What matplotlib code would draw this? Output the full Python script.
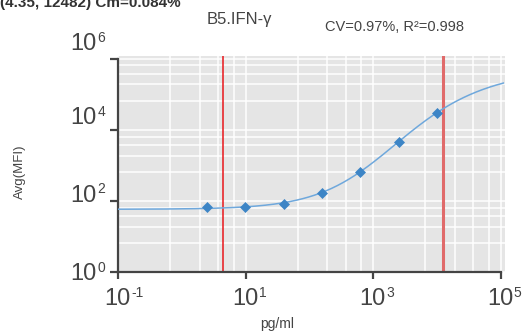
import numpy as np
import matplotlib
matplotlib.use('Agg')
import matplotlib.pyplot as plt
import matplotlib.transforms as mtransforms
from matplotlib.ticker import FixedLocator, NullLocator, NullFormatter

# ---------------- data ----------------
concentrations = [2.44140625, 9.765625, 39.0625, 156.25, 625, 2500, 10000]   # pg/ml
avg_mfi = [70.5, 70, 83, 172, 650, 4660, 29200]
lloq = 4.35
uloq = 12482
cm_pct = 0.084
cv_pct = 0.97
r2 = 0.998
analyte = "B5.IFN-γ"
# standard-curve fit parameters (5PL on log10 MFI)
fit_a, fit_d, fit_c, fit_b, fit_g = 1.77, 5.75, 1215.0, 0.75, 0.65
curve_x_range = (0.1, 1.09e5)
x_major = [0.1, 10, 1000, 100000]
x_exps = ["-1", "1", "3", "5"]
y_major = [1, 100, 10000, 1000000]
y_exps = ["0", "2", "4", "6"]
minor_mult = [6.5, 19, 37, 65]

# ---------------- style ----------------
W, H = 525, 333
plt.rcParams['font.family'] = ['Liberation Sans', 'DejaVu Sans']
TXT = '#444444'
fig = plt.figure(figsize=(W / 100, H / 100), dpi=100)
left_px, right_px, top_px, bottom_px = 118.3, 504.5, 55.7, 272.3
ax = fig.add_axes([left_px / W, (H - bottom_px) / H, (right_px - left_px) / W, (bottom_px - top_px) / H])
ax.set_facecolor('#e5e5e5')
ax.set_xscale('log')
ax.set_yscale('log')
ax.set_xlim(0.1, 10 ** 5.055)
ax.set_ylim(1, 10 ** 6.084)

x_minor = [b * m for b in x_major[:-1] for m in minor_mult]
y_minor = [b * m for b in y_major[:-1] for m in minor_mult]
ax.xaxis.set_major_locator(FixedLocator(x_major))
ax.yaxis.set_major_locator(FixedLocator(y_major))
ax.xaxis.set_minor_locator(FixedLocator(x_minor))
ax.yaxis.set_minor_locator(FixedLocator(y_minor))
ax.xaxis.set_major_formatter(NullFormatter())
ax.yaxis.set_major_formatter(NullFormatter())
ax.xaxis.set_minor_formatter(NullFormatter())
ax.yaxis.set_minor_formatter(NullFormatter())
ax.grid(True, which='both', color='white', lw=1.1, zorder=0)
ax.set_axisbelow(True)
ax.tick_params(which='minor', length=0)
ax.tick_params(axis='y', which='major', length=5.8, width=1.6, color=TXT, direction='out')
ax.tick_params(axis='x', which='major', length=5.0, width=1.6, color=TXT, direction='out')
for s in ['top', 'right']:
    ax.spines[s].set_visible(False)
for s in ['left', 'bottom']:
    ax.spines[s].set_color(TXT)
    ax.spines[s].set_linewidth(1.6)
ax.spines['left'].set_bounds(1, 1e6)
ax.spines['bottom'].set_bounds(0.1, 1e5)

# LLOQ / ULOQ lines
ax.axvline(lloq, color='#e8161b', lw=1.1, zorder=2)
ax.axvline(uloq, color='#e06a6a', lw=2.2, zorder=2)

# fitted curve
xc = np.logspace(np.log10(curve_x_range[0]), np.log10(curve_x_range[1]), 400)
yc = 10 ** (fit_d + (fit_a - fit_d) / (1 + (xc / fit_c) ** fit_b) ** fit_g)
ax.plot(xc, yc, color='#6fa8dc', lw=1.1, zorder=3, clip_on=True)
ax.plot(concentrations, avg_mfi, linestyle='none', marker='D', ms=5.2,
        color='#3d85c6', mec='#3d85c6', mew=0.5, zorder=4)

# tick labels (10 with superscript exponent)
ty = mtransforms.blended_transform_factory(ax.transAxes, ax.transData)
tx = mtransforms.blended_transform_factory(ax.transData, ax.transAxes)
y_base_off = [-7.7, -0.6, 6.0, 8.7]
for v, e, dy in zip(y_major, y_exps, y_base_off):
    ax.annotate('10', xy=(0, v), xycoords=ty, xytext=(-21.3, dy), textcoords='offset pixels',
                ha='right', va='baseline', fontsize=17, color=TXT, annotation_clip=False)
    ax.annotate(e, xy=(0, v), xycoords=ty, xytext=(-20.6, dy + 8.3), textcoords='offset pixels',
                ha='left', va='baseline', fontsize=10, color=TXT, annotation_clip=False)
for v, e in zip(x_major, x_exps):
    ax.annotate('10', xy=(v, 0), xycoords=tx, xytext=(12.2, -32.7), textcoords='offset pixels',
                ha='right', va='baseline', fontsize=17, color=TXT, annotation_clip=False)
    ax.annotate(e, xy=(v, 0), xycoords=tx, xytext=(12.8, -25.0), textcoords='offset pixels',
                ha='left', va='baseline', fontsize=10, color=TXT, annotation_clip=False)

def ftext(x, y, s, **kw):
    fig.text(x / W, 1 - y / H, s, **kw)

ftext(0, 6.5, f"({lloq}, {uloq}) Cm={cm_pct}%", ha='left', va='baseline',
      fontsize=11, fontweight='bold', color='#333333')
ftext(239.5, 24.3, analyte, ha='center', va='baseline', fontsize=12, color=TXT)
ftext(325, 31, f"CV={cv_pct}%, R²={r2}", ha='left', va='baseline', fontsize=10.5, color=TXT)
ftext(19.5, 172, "Avg(MFI)", ha='center', va='center', rotation=90, fontsize=9.5, color=TXT)
ftext(277.5, 328, "pg/ml", ha='center', va='baseline', fontsize=10, color=TXT)

fig.savefig('out.png', dpi=100)
